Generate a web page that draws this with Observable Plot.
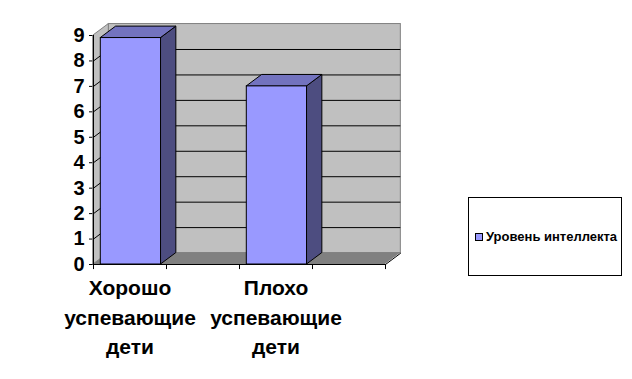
<!DOCTYPE html>
<html>
<head>
<meta charset="utf-8">
<script src="https://cdn.jsdelivr.net/npm/d3@7"></script>
<script src="https://cdn.jsdelivr.net/npm/@observablehq/plot@0.6"></script>
<style>
  html, body { margin: 0; padding: 0; background: #fff; }
  #wrap { position: relative; width: 632px; height: 379px; font-family: "Liberation Sans", Arial, sans-serif; }
  #legend {
    position: absolute; left: 468px; top: 197px; width: 154px; height: 79px;
    border: 1px solid #000; box-sizing: border-box;
    display: flex; align-items: center; padding-left: 6px;
    font: bold 13px "Liberation Sans", Arial, sans-serif; color: #000; white-space: nowrap;
  }
  #legend .sw { width: 6px; height: 6px; border: 1px solid #000; background: #9999ff; margin-right: 3px; margin-top: 1px; }
</style>
</head>
<body>
<div id="wrap"></div>
<script>
// Worksheet columns (two of them are left blank in the sheet)
const categories = ["Хорошо успевающие дети", "", "Плохо успевающие дети", ""];
const values = [8.9, null, 7, null];
const seriesName = "Уровень интеллекта";
const yTicks = [0, 1, 2, 3, 4, 5, 6, 7, 8, 9];

// 3D look: depth offset of the back wall, in data units
const DX = 0.21, DY = 0.45;
const YMAX = 9, XMAX = categories.length;
const BAR_L = 0.1, BAR_R = 0.925;

const colors = { front: "#9999ff", top: "#7373bf", side: "#4d4d80", wall: "#c0c0c0", floor: "#808080", edge: "#808080" };

const bars = categories.map((c, i) => ({ i, c, v: values[i] })).filter(d => d.v != null);
const sides = bars.flatMap(d => [
  { z: d.i, x: d.i + BAR_R, y1: 0, y2: d.v },
  { z: d.i, x: d.i + BAR_R + DX, y1: DY, y2: d.v + DY }
]);
const tops = bars.flatMap(d => [
  { z: d.i, y: d.v, x1: d.i + BAR_L, x2: d.i + BAR_R },
  { z: d.i, y: d.v + DY, x1: d.i + BAR_L + DX, x2: d.i + BAR_R + DX }
]);
const grid = yTicks.filter(t => t > 0 && t < YMAX);
const slotEdges = d3.range(XMAX + 1);

const chart = Plot.plot({
  width: 632,
  height: 379,
  marginLeft: 93,
  marginRight: 247,
  marginTop: 35,
  marginBottom: 115,
  style: { fontFamily: "'Liberation Sans', Arial, sans-serif", fontSize: "20px", fontWeight: "bold", color: "#000", background: "transparent" },
  x: { domain: [0, XMAX], axis: null },
  y: { domain: [0, YMAX], ticks: yTicks, tickSize: 4, tickPadding: 5, tickFormat: d3.format("d"), label: null },
  marks: [
    // back wall
    Plot.rect([0], { x1: DX, x2: XMAX + DX, y1: DY, y2: YMAX + DY, fill: colors.wall, stroke: colors.edge }),
    // left wall
    Plot.areaY([{ x: 0, y1: 0, y2: YMAX }, { x: DX, y1: DY, y2: YMAX + DY }], { x: "x", y1: "y1", y2: "y2", fill: colors.wall, stroke: colors.edge }),
    // floor
    Plot.areaX([{ y: 0, x1: 0, x2: XMAX }, { y: DY, x1: DX, x2: XMAX + DX }], { y: "y", x1: "x1", x2: "x2", fill: colors.floor }),
    // gridlines on the back wall and the left wall
    Plot.ruleY(grid, { y: d => d + DY, x1: DX, x2: XMAX + DX, stroke: "#000", strokeWidth: 1 }),
    Plot.link(grid, { x1: 0, y1: d => d, x2: DX, y2: d => d + DY, stroke: "#000", strokeWidth: 1 }),
    // right edge of the floor
    Plot.link([0], { x1: XMAX, y1: 0, x2: XMAX + DX, y2: DY, stroke: "#000" }),
    // 3D columns
    Plot.areaY(sides, { x: "x", y1: "y1", y2: "y2", z: "z", fill: colors.side, stroke: "#000", strokeWidth: 1 }),
    Plot.areaX(tops, { y: "y", x1: "x1", x2: "x2", z: "z", fill: colors.top, stroke: "#000", strokeWidth: 1 }),
    Plot.rect(bars, { x1: d => d.i + BAR_L, x2: d => d.i + BAR_R, y1: 0, y2: "v", fill: colors.front, stroke: "#000", strokeWidth: 1 }),
    // axes
    Plot.ruleX([0], { y1: 0, y2: YMAX, stroke: "#000" }),
    Plot.ruleY([0], { x1: 0, x2: XMAX, stroke: "#000" }),
    Plot.ruleX(slotEdges, { x: d => d, y1: 0, y2: -0.2, stroke: "#000" }),
    // category labels
    Plot.text(bars, { x: d => d.i + 0.5, y: 0, text: "c", lineWidth: 4, lineHeight: 1.4, lineAnchor: "top", dy: 10, fontSize: 21, fontWeight: "bold", fill: "#000" })
  ]
});

const wrap = document.getElementById("wrap");
wrap.appendChild(chart);
const legend = document.createElement("div");
legend.id = "legend";
legend.innerHTML = `<span class="sw"></span><span></span>`;
legend.lastChild.textContent = seriesName;
wrap.appendChild(legend);
</script>
</body>
</html>
